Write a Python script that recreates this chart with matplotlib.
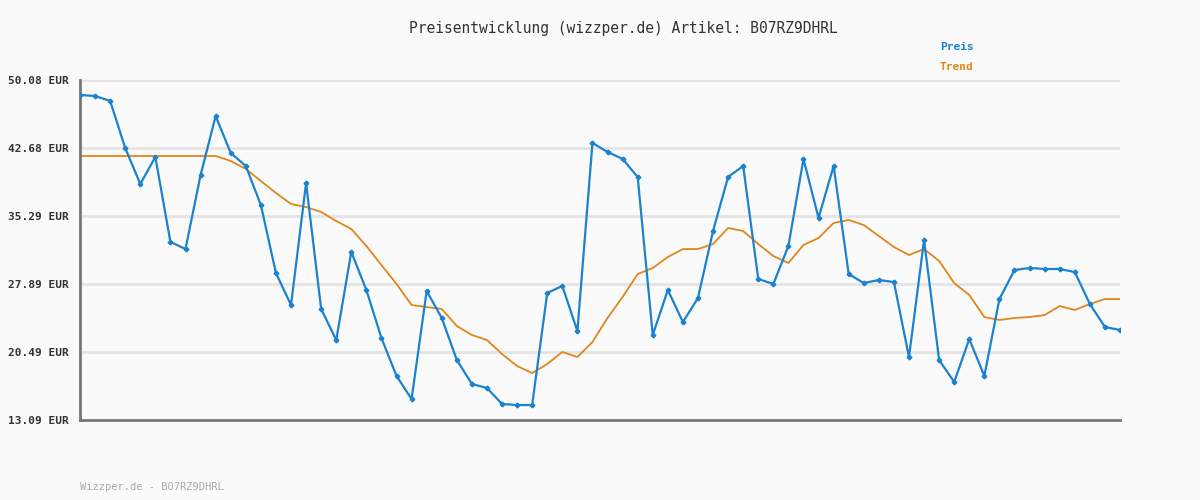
import matplotlib
matplotlib.use("Agg")
import matplotlib.pyplot as plt
import numpy as np

# price history, one value per sample
preis = [48.45, 48.34, 47.80, 42.68, 38.77, 41.70, 32.46, 31.69, 39.74, 46.16,
         42.14, 40.72, 36.48, 29.08, 25.60, 38.87, 25.17, 21.79, 31.37, 27.23,
         22.01, 17.88, 15.37, 27.12, 24.19, 19.62, 17.01, 16.57, 14.83, 14.72,
         14.72, 26.91, 27.67, 22.77, 43.23, 42.25, 41.49, 39.53, 22.34, 27.23,
         23.75, 26.36, 33.65, 39.53, 40.72, 28.43, 27.89, 32.02, 41.49, 35.07,
         40.72, 28.97, 27.99, 28.32, 28.10, 19.94, 32.67, 19.62, 17.22, 21.90,
         17.88, 26.25, 29.41, 29.63, 29.52, 29.52, 29.19, 25.71, 23.21, 22.88]
trend = [41.81] * 10 + [
         41.27, 40.40, 39.09, 37.79, 36.59, 36.26, 35.72, 34.74, 33.87, 32.02,
         29.95, 27.89, 25.60, 25.38, 25.17, 23.32, 22.34, 21.79, 20.27, 18.96,
         18.20, 19.18, 20.49, 19.94, 21.58, 24.19, 26.47, 28.97, 29.63, 30.82,
         31.69, 31.69, 32.24, 33.98, 33.65, 32.24, 30.93, 30.17, 32.13, 32.89,
         34.52, 34.85, 34.30, 33.11, 31.91, 31.04, 31.69, 30.39, 27.99, 26.69,
         24.29, 23.97, 24.19, 24.29, 24.51, 25.49, 25.06, 25.71, 26.25, 26.25]
yticks = [13.09, 20.49, 27.89, 35.29, 42.68, 50.08]

mono = ["DejaVu Sans Mono"]
blue = "#1a82cf"
orange = "#e0861a"

fig = plt.figure(figsize=(12, 5), dpi=100, facecolor="#fafafa")
ax = fig.add_axes([80 / 1200, 80 / 500, 1040 / 1200, 340 / 500], facecolor="#fafafa")
x = np.arange(len(preis))
ax.plot(x, preis, color=blue, lw=1.6, marker="P", ms=3, zorder=3)
ax.plot(x, trend, color=orange, lw=1.3, zorder=2)

ax.set_xlim(0, len(preis) - 1)
ax.set_ylim(yticks[0], yticks[-1])
ax.set_yticks(yticks)
ax.set_yticklabels([f"{v:.2f} EUR" for v in yticks], family=mono, fontsize=8,
                   color="#333333", weight="bold")
ax.set_xticks([])
ax.tick_params(axis="y", length=0, pad=8)
ax.grid(axis="y", color="#e4e4e4", lw=2)
for s in ["top", "right"]:
    ax.spines[s].set_visible(False)
for s in ["left", "bottom"]:
    ax.spines[s].set_color("#777777")
    ax.spines[s].set_linewidth(2)

fig.text(623 / 1200, 1 - 28 / 500, "Preisentwicklung (wizzper.de) Artikel: B07RZ9DHRL",
         ha="center", va="center", family=mono, fontsize=10.5, color="#333333")
fig.text(940 / 1200, 1 - 47 / 500, "Preis", family=mono, fontsize=8, color=blue,
         va="center", weight="bold")
fig.text(940 / 1200, 1 - 67 / 500, "Trend", family=mono, fontsize=8, color=orange,
         va="center", weight="bold")
fig.text(80 / 1200, 1 - 487 / 500, "Wizzper.de - B07RZ9DHRL", family=mono, fontsize=7.5,
         color="#aaaaaa", va="center")

fig.savefig("out.png", dpi=100, facecolor=fig.get_facecolor())
